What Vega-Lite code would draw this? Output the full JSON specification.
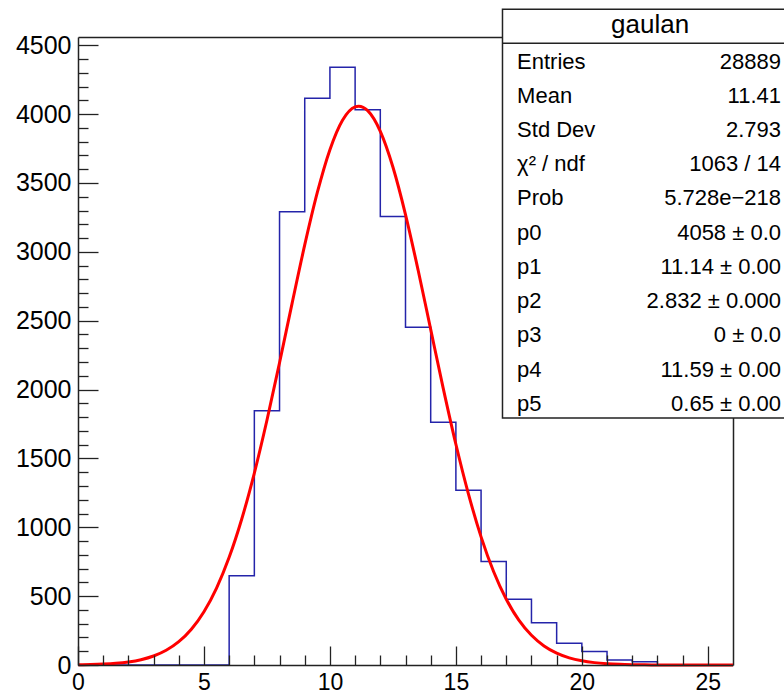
{
  "$schema": "https://vega.github.io/schema/vega-lite/v6.json",
  "width": 655,
  "height": 628,
  "autosize": {"type": "none"},
  "padding": {"left": 78, "top": 37, "right": 51, "bottom": 30},
  "background": "white",
  "config": {
    "view": {"stroke": null},
    "font": "Liberation Sans",
    "axis": {"grid": false, "title": null}
  },
  "datasets": {
    "hist": [
      {"x": 0, "count": 0}, {"x": 1, "count": 0}, {"x": 2, "count": 0}, {"x": 3, "count": 0},
      {"x": 4, "count": 0}, {"x": 5, "count": 0}, {"x": 6, "count": 648}, {"x": 7, "count": 1847},
      {"x": 8, "count": 3291}, {"x": 9, "count": 4115}, {"x": 10, "count": 4341}, {"x": 11, "count": 4031},
      {"x": 12, "count": 3257}, {"x": 13, "count": 2452}, {"x": 14, "count": 1762}, {"x": 15, "count": 1268},
      {"x": 16, "count": 752}, {"x": 17, "count": 478}, {"x": 18, "count": 306}, {"x": 19, "count": 158},
      {"x": 20, "count": 98}, {"x": 21, "count": 37}, {"x": 22, "count": 24}, {"x": 23, "count": 0},
      {"x": 24, "count": 0}, {"x": 25, "count": 0}, {"x": 26, "count": 0}
    ],
    "fit": [
      {"x": 0, "y": 1.8}, {"x": 0.5, "y": 3.5}, {"x": 1, "y": 6.7}, {"x": 1.5, "y": 12.3},
      {"x": 2, "y": 22.2}, {"x": 2.5, "y": 38.6}, {"x": 3, "y": 65.2}, {"x": 3.5, "y": 106.6},
      {"x": 4, "y": 169.1}, {"x": 4.5, "y": 259.7}, {"x": 5, "y": 387}, {"x": 5.5, "y": 558.8},
      {"x": 6, "y": 781.6}, {"x": 6.5, "y": 1060}, {"x": 7, "y": 1394}, {"x": 7.5, "y": 1777},
      {"x": 8, "y": 2195}, {"x": 8.5, "y": 2628}, {"x": 9, "y": 3050}, {"x": 9.5, "y": 3431},
      {"x": 10, "y": 3742}, {"x": 10.5, "y": 3956}, {"x": 11, "y": 4053}, {"x": 11.14, "y": 4058},
      {"x": 11.5, "y": 4025}, {"x": 12, "y": 3875}, {"x": 12.5, "y": 3616}, {"x": 13, "y": 3271},
      {"x": 13.5, "y": 2868}, {"x": 14, "y": 2437}, {"x": 14.5, "y": 2007}, {"x": 15, "y": 1603},
      {"x": 15.5, "y": 1241}, {"x": 16, "y": 930.5}, {"x": 16.5, "y": 676.8}, {"x": 17, "y": 477.2},
      {"x": 17.5, "y": 325.9}, {"x": 18, "y": 215.8}, {"x": 18.5, "y": 138.5}, {"x": 19, "y": 86.2},
      {"x": 19.5, "y": 52}, {"x": 20, "y": 30.4}, {"x": 20.5, "y": 17.2}, {"x": 21, "y": 9.4},
      {"x": 21.5, "y": 5}, {"x": 22, "y": 2.6}, {"x": 22.5, "y": 1.3}, {"x": 23, "y": 0.6},
      {"x": 23.5, "y": 0.3}, {"x": 24, "y": 0.1}, {"x": 24.5, "y": 0.05}, {"x": 25, "y": 0},
      {"x": 25.5, "y": 0}, {"x": 26, "y": 0}
    ],
    "stats": [
      {"row": 0, "label": "Entries", "value": "28889"},
      {"row": 1, "label": "Mean", "value": "11.41"},
      {"row": 2, "label": "Std Dev", "value": "2.793"},
      {"row": 3, "label": "χ² / ndf", "value": "1063 / 14"},
      {"row": 4, "label": "Prob", "value": "5.728e−218"},
      {"row": 5, "label": "p0", "value": "4058 ± 0.0"},
      {"row": 6, "label": "p1", "value": "11.14 ± 0.00"},
      {"row": 7, "label": "p2", "value": "2.832 ± 0.000"},
      {"row": 8, "label": "p3", "value": "0 ± 0.0"},
      {"row": 9, "label": "p4", "value": "11.59 ± 0.00"},
      {"row": 10, "label": "p5", "value": "0.65 ± 0.00"}
    ],
    "box": [{"name": "gaulan"}]
  },
  "layer": [
    {
      "data": {"name": "hist"},
      "mark": {"type": "line", "interpolate": "step-after", "color": "#2424aa", "strokeWidth": 1.5},
      "encoding": {
        "x": {
          "field": "x", "type": "quantitative",
          "scale": {"domain": [0, 26], "nice": false, "zero": false},
          "axis": {
            "orient": "bottom", "values": [0, 5, 10, 15, 20, 25], "tickSize": -19, "tickColor": "#222",
            "tickWidth": 1.3, "domainColor": "#222", "domainWidth": 1.5, "labelFontSize": 23,
            "labelColor": "black", "labelPadding": 25, "labelFlush": false, "format": "d", "zindex": 1
          }
        },
        "y": {
          "field": "count", "type": "quantitative",
          "scale": {"domain": [0, 4560], "nice": false},
          "axis": {
            "orient": "left", "values": [0, 500, 1000, 1500, 2000, 2500, 3000, 3500, 4000, 4500],
            "tickSize": -20, "tickColor": "#222", "tickWidth": 1.3, "domainColor": "#222", "domainWidth": 1.5,
            "labelFontSize": 25, "labelColor": "black", "labelPadding": 27, "labelFlush": false,
            "format": "d", "zindex": 1
          }
        }
      }
    },
    {
      "data": {"name": "fit"},
      "mark": {"type": "line", "interpolate": "monotone", "color": "#ff0000", "strokeWidth": 3},
      "encoding": {
        "x": {
          "field": "x", "type": "quantitative",
          "scale": {"domain": [0, 26], "nice": false, "zero": false},
          "axis": {
            "orient": "bottom",
            "values": [1, 2, 3, 4, 6, 7, 8, 9, 11, 12, 13, 14, 16, 17, 18, 19, 21, 22, 23, 24],
            "tickSize": -10, "tickColor": "#222", "tickWidth": 1.3, "labels": false, "domain": false, "zindex": 1
          }
        },
        "y": {
          "field": "y", "type": "quantitative",
          "scale": {"domain": [0, 4560], "nice": false},
          "axis": {
            "orient": "left",
            "values": [100, 200, 300, 400, 600, 700, 800, 900, 1100, 1200, 1300, 1400, 1600, 1700, 1800, 1900, 2100, 2200, 2300, 2400, 2600, 2700, 2800, 2900, 3100, 3200, 3300, 3400, 3600, 3700, 3800, 3900, 4100, 4200, 4300, 4400],
            "tickSize": -10, "tickColor": "#222", "tickWidth": 1.3, "labels": false, "domain": false, "zindex": 1
          }
        }
      }
    },
    {
      "data": {"name": "box"},
      "mark": {"type": "rect", "fill": "white", "stroke": "#222", "strokeWidth": 1.5},
      "encoding": {
        "x": {
          "datum": 16.85, "type": "quantitative",
          "scale": {"domain": [0, 26], "nice": false, "zero": false},
          "axis": {"orient": "top", "ticks": false, "labels": false, "domain": true, "domainColor": "#222", "domainWidth": 1.5, "zindex": 0}
        },
        "x2": {"datum": 31},
        "y": {
          "datum": -1.532, "type": "quantitative",
          "scale": {"domain": [-0.722, 17.64], "reverse": true, "nice": false, "zero": false},
          "axis": {"orient": "right", "ticks": false, "labels": false, "domain": true, "domainColor": "#222", "domainWidth": 1.5, "zindex": 0}
        },
        "y2": {"datum": 10.418}
      }
    },
    {
      "data": {"name": "box"},
      "mark": {"type": "rule", "color": "#222", "strokeWidth": 1.5},
      "encoding": {
        "x": {"datum": 16.85, "type": "quantitative", "scale": {"domain": [0, 26], "nice": false, "zero": false}, "axis": null},
        "x2": {"datum": 31},
        "y": {"datum": -0.538, "type": "quantitative", "scale": {"domain": [-0.722, 17.64], "reverse": true, "nice": false, "zero": false}, "axis": null}
      }
    },
    {
      "data": {"name": "box"},
      "mark": {"type": "text", "fontSize": 26, "align": "center", "baseline": "middle", "color": "black"},
      "encoding": {
        "x": {"datum": 22.71, "type": "quantitative", "scale": {"domain": [0, 26], "nice": false, "zero": false}, "axis": null},
        "y": {"datum": -1.073, "type": "quantitative", "scale": {"domain": [-0.722, 17.64], "reverse": true, "nice": false, "zero": false}, "axis": null},
        "text": {"field": "name"}
      }
    },
    {
      "data": {"name": "stats"},
      "mark": {"type": "text", "fontSize": 22, "align": "left", "baseline": "middle", "color": "black"},
      "encoding": {
        "x": {"datum": 17.43, "type": "quantitative", "scale": {"domain": [0, 26], "nice": false, "zero": false}, "axis": null},
        "y": {"field": "row", "type": "quantitative", "scale": {"domain": [-0.722, 17.64], "reverse": true, "nice": false, "zero": false}, "axis": null},
        "text": {"field": "label"}
      }
    },
    {
      "data": {"name": "stats"},
      "mark": {"type": "text", "fontSize": 22, "align": "right", "baseline": "middle", "color": "black"},
      "encoding": {
        "x": {"datum": 27.905, "type": "quantitative", "scale": {"domain": [0, 26], "nice": false, "zero": false}, "axis": null},
        "y": {"field": "row", "type": "quantitative", "scale": {"domain": [-0.722, 17.64], "reverse": true, "nice": false, "zero": false}, "axis": null},
        "text": {"field": "value"}
      }
    }
  ],
  "resolve": {
    "scale": {"x": "independent", "y": "independent"},
    "axis": {"x": "independent", "y": "independent"}
  }
}
